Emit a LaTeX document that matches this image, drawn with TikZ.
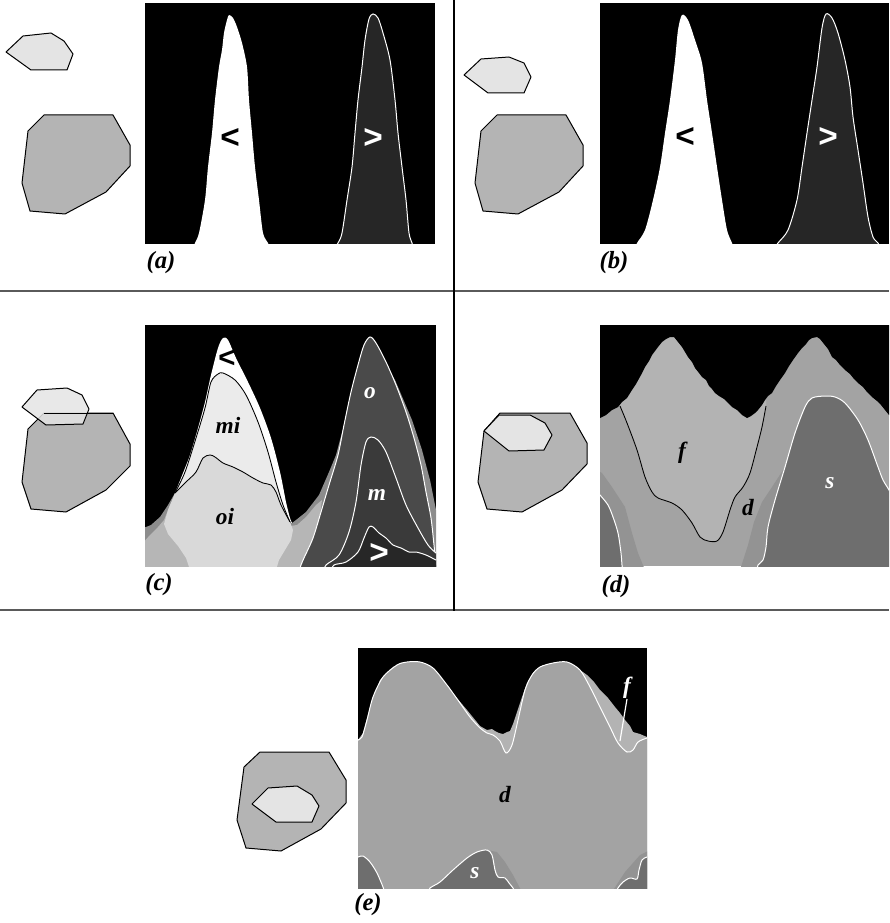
\documentclass[tikz,border=0pt]{standalone}
\usepackage{fontspec}
\setmainfont{Liberation Serif}
\newfontfamily\symfont{Liberation Sans}
\definecolor{polylight}{HTML}{E4E4E4}
\definecolor{polydark}{HTML}{B4B4B4}
\definecolor{peakdark}{HTML}{262626}
\definecolor{regmi}{HTML}{EBEBEB}
\definecolor{regoi}{HTML}{D9D9D9}
\definecolor{chalo}{HTML}{8C8C8C}
\definecolor{chalolight}{HTML}{B6B6B6}
\definecolor{rego}{HTML}{4A4A4A}
\definecolor{regm}{HTML}{3A3A3A}
\definecolor{reggt}{HTML}{272727}
\definecolor{regd}{HTML}{A3A3A3}
\definecolor{regf}{HTML}{B3B3B3}
\definecolor{regs}{HTML}{6E6E6E}
\definecolor{halod}{HTML}{939393}
\definecolor{sepgray}{HTML}{5A5A5A}
\tikzset{
  sepline/.style={draw=sepgray, line width=0.9pt},
  blobsmall/.style={fill=polylight, draw=black, line width=0.75pt, line join=round},
  blobbig/.style={fill=polydark, draw=black, line width=0.75pt, line join=round},
  whiteedge/.style={draw=white, line width=0.75pt},
  blackedge/.style={draw=black, line width=0.65pt},
  caption/.style={font=\bfseries\itshape\fontsize{18.5}{18.5}\selectfont, inner sep=0pt},
  region/.style={font=\bfseries\itshape\fontsize{17.5}{17.5}\selectfont, inner sep=0pt},
  cmp/.style={font=\symfont\bfseries\fontsize{25}{25}\selectfont, inner sep=0pt}
}
\begin{document}
\begin{tikzpicture}[x=0.75pt,y=-0.75pt]
\useasboundingbox (0,0) rectangle (889,923);

% ---------------- separators ----------------
\draw[sepline] (0,291) -- (889,291);
\draw[sepline] (0,610) -- (889,610);
\draw[draw=black, line width=0.9pt] (454,0) -- (454,611);

% ---------------- panel (a) ----------------
\draw[blobsmall] (6,52) -- (23,36) -- (51,33) -- (64,41) -- (73,54) -- (67,70) -- (31,70) -- cycle;
\draw[blobbig] (44,115) -- (113,115) -- (130,145) -- (130,166) -- (106,192) -- (65,214) -- (30,211) -- (22,183) -- (28,131) -- cycle;
\fill[black] (145,3) rectangle (435,244);
\begin{scope}
  \clip (145,3) rectangle (435,244);
  \fill[white] plot[smooth] coordinates {(192,252) (195,243) (199,233) (205,200) (208,167) (212,133) (215,100) (219,67) (222,50) (224,33) (227,20) (229,15) (233,18) (237,27) (242,43) (247,67) (249,100) (252,133) (255,167) (259,200) (263,233) (268,243) (271,252)} -- cycle;
  \filldraw[fill=peakdark, whiteedge] plot[smooth] coordinates {(332,252) (338,243) (342,233) (347,200) (352,167) (355,133) (358,100) (362,67) (365,40) (369,19) (373,14) (378,18) (383,33) (390,60) (395,100) (398,133) (402,167) (406,200) (409,233) (412,243) (414,252)} -- cycle;
\end{scope}
\node[cmp, text=black] (altA) at (230,139) {<};
\node[cmp, text=white] (gtA) at (373,139) {>};
\node[caption] (capA) at (161,263) {(a)};

% ---------------- panel (b) ----------------
\draw[blobsmall] (464,75) -- (481,59) -- (509,57) -- (524,63) -- (531,77) -- (524,93) -- (488,93) -- cycle;
\draw[blobbig] (497,115) -- (566,115) -- (583,145) -- (583,166) -- (559,192) -- (518,214) -- (483,211) -- (475,183) -- (481,131) -- cycle;
\fill[black] (600,3) rectangle (889,244);
\begin{scope}
  \clip (600,3) rectangle (889,244);
  \fill[white] plot[smooth] coordinates {(633,252) (637,243) (645,230) (653,200) (660,167) (665,133) (670,100) (675,60) (678,30) (682,15) (688,20) (695,40) (702,63) (707,100) (712,133) (717,167) (722,200) (727,230) (732,243) (735,252)} -- cycle;
  \filldraw[fill=peakdark, whiteedge] plot[smooth] coordinates {(772,252) (778,243) (788,230) (797,200) (802,167) (807,133) (812,100) (817,67) (822,28) (826,14) (832,18) (838,33) (845,60) (850,87) (853,117) (858,150) (863,183) (868,217) (873,237) (878,243) (882,252)} -- cycle;
\end{scope}
\node[cmp, text=black] (altB) at (685,138) {<};
\node[cmp, text=white] (gtB) at (828,138) {>};
\node[caption] (capB) at (614,263) {(b)};

% ---------------- panel (c) ----------------
\draw[blobbig] (44,413) -- (113,413) -- (130,444) -- (130,466) -- (106,490) -- (66,512) -- (31,509) -- (22,482) -- (28,429) -- cycle;
\draw[blobsmall, fill opacity=0.85] (22,407) -- (37,390) -- (67,388) -- (82,395) -- (89,409) -- (83,424) -- (46,425) -- cycle;
\draw[black, line width=0.75pt] (44,413) -- (113,413);
\fill[black] (145,325) rectangle (436,566);
\begin{scope}
  \clip (145,325) rectangle (436,566);
  % grey halo around both peaks
  \fill[chalo] (141,528) -- (146,527) -- (151,525) -- (160,517) -- (168,505) -- (175,493) -- (292,523) -- (296,520) -- (306,512) -- (319,495) -- (329,472) -- (336,455) -- (344,425) -- (370,337) -- (395,380) -- (412,420) -- (422,450) -- (430,480) -- (436,510) -- (441,530) -- (441,570) -- (141,570) -- cycle;
  \fill[chalolight] (141,545) -- (150,535) -- (158,527) -- (164,520) -- (170,505) -- (175,497) -- (290,526) -- (297,525) -- (306,517) -- (316,505) -- (322,500) -- (318,530) -- (306,570) -- (141,570) -- cycle;
  % right peak: o, m and > layers
  \filldraw[fill=rego, whiteedge] plot[smooth] coordinates {(299,572) (301,565) (304,558) (313,538) (321,512) (329,485) (338,455) (344,425) (351,392) (358,365) (364,345) (370,337) (376,343) (386,362) (396,385) (406,412) (414,438) (421,465) (426,492) (431,518) (434,545) (436,565) (437,572)} -- cycle;
  \filldraw[fill=regm, whiteedge] plot[smooth] coordinates {(324,572) (326,565) (339,555) (349,532) (356,502) (361,465) (366,442) (371,437) (378,440) (386,452) (396,478) (406,505) (418,528) (428,545) (436,553) (441,556)} -- (441,575) -- cycle;
  \filldraw[fill=reggt, whiteedge] plot[smooth] coordinates {(331,572) (334,565) (346,562) (358,552) (364,538) (369,527) (373,527) (379,533) (386,538) (393,545) (401,548) (409,552) (416,552) (426,555) (436,560) (441,562)} -- (441,575) -- cycle;
  % left peak: white cap, mi and oi layers
  \fill[white] plot[smooth] coordinates {(175,493) (181,478) (190,455) (198,428) (205,402) (211,375) (218,348) (223,338) (228,340) (236,358) (248,382) (260,408) (271,438) (280,472) (286,502) (290,518) (292,523)} -- cycle;
  \filldraw[fill=regmi, blackedge] plot[smooth] coordinates {(175,493) (185,472) (196,438) (205,408) (211,382) (218,374) (223,373) (235,380) (246,395) (258,422) (268,452) (276,482) (283,505) (290,522)} -- cycle;
  \fill[regoi] plot[smooth] coordinates {(175,493) (186,482) (196,472) (203,458) (210,455) (215,457) (223,463) (233,467) (243,472) (253,478) (263,483) (271,485) (276,492) (281,505) (290,522)} -- (293,530) -- (291,540) -- (285,550) -- (279,560) -- (276,570) -- (190,570) -- (186,558) -- (178,546) -- (168,534) -- (164,524) -- (168,510) -- cycle;
  \draw[blackedge] plot[smooth] coordinates {(175,493) (186,482) (196,472) (203,458) (210,455) (215,457) (223,463) (233,467) (243,472) (253,478) (263,483) (271,485) (276,492) (281,505) (290,522)};
\end{scope}
\node[cmp, text=black, font=\symfont\bfseries\fontsize{22}{22}\selectfont] (altC) at (227,359) {<};
\node[region] (lmi) at (228,425) {mi};
\node[region] (loi) at (225,517) {oi};
\node[region, text=white] (lo) at (370,393) {o};
\node[region, text=white] (lm) at (377,495) {m};
\node[cmp, text=white] (gtC) at (379,553) {>};
\node[caption] (capC) at (159,585) {(c)};

% ---------------- panel (d) ----------------
\draw[blobbig] (500,413) -- (570,413) -- (587,443) -- (587,464) -- (562,490) -- (522,512) -- (487,509) -- (478,482) -- (484,431) -- cycle;
\draw[blobsmall] (484,431) -- (499,415) -- (530,415) -- (545,423) -- (552,435) -- (544,450) -- (509,451) -- cycle;
\fill[regd] (600,325) rectangle (889,566);
\begin{scope}
  \clip (600,325) rectangle (889,566);
  \fill[halod] (596,470) -- (602,473) -- (612,487) -- (625,507) -- (632,533) -- (638,553) -- (645,570) -- (596,570) -- cycle;
  \fill[halod] (740,570) -- (748,545) -- (754,522) -- (762,502) -- (772,487) -- (785,467) -- (775,500) -- (768,527) -- (766,547) -- (763,560) -- (758,570) -- cycle;
  \fill[regf] plot[smooth] coordinates {(620,406) (627,423) (637,450) (645,477) (652,492) (658,498) (672,503) (682,510) (692,523) (700,537) (708,541) (717,541) (723,532) (730,510) (735,497) (743,487) (750,473) (757,447) (762,427) (766,406)} -- (766,330) -- (620,330) -- cycle;
  % black sky above the mountains
  \fill[black] (596,321) -- (596,418) -- (600,418) -- (606,415) -- (612,410) -- (618,407) -- (622,402) -- (627,398) -- (632,390) -- (636,384) -- (641,375) -- (645,367) -- (649,361) -- (652,355) -- (655,351) -- (658,347) -- (662,342) -- (666,339) -- (670,337) -- (674,337) -- (678,342) -- (682,347) -- (685,352) -- (688,357) -- (692,362) -- (695,368) -- (699,373) -- (702,377) -- (706,380) -- (709,386) -- (712,389) -- (715,393) -- (719,396) -- (724,399) -- (728,403) -- (732,407) -- (737,410) -- (742,415) -- (747,418) -- (751,416) -- (755,413) -- (758,410) -- (762,405) -- (765,400) -- (768,396) -- (772,393) -- (776,386) -- (780,380) -- (785,373) -- (789,366) -- (793,360) -- (798,353) -- (802,348) -- (806,344) -- (809,340) -- (812,338) -- (817,337) -- (820,339) -- (824,344) -- (828,349) -- (832,357) -- (836,360) -- (840,365) -- (845,370) -- (850,374) -- (854,379) -- (858,383) -- (863,387) -- (867,392) -- (872,397) -- (877,401) -- (881,405) -- (885,410) -- (889,415) -- (893,417) -- (893,321) -- cycle;
  \draw[blackedge] plot[smooth] coordinates {(620,406) (627,423) (637,450) (645,477) (652,492) (658,498) (672,503) (682,510) (692,523) (700,537) (708,541) (717,541) (723,532) (730,510) (735,497) (743,487) (750,473) (757,447) (762,427) (766,406)};
  % s regions
  \filldraw[fill=regs, whiteedge] plot[smooth] coordinates {(596,490) (600,495) (608,505) (613,517) (618,533) (621,553) (622,565) (623,572)} -- (596,572) -- cycle;
  \filldraw[fill=regs, whiteedge] plot[smooth] coordinates {(757,572) (758,565) (763,560) (766,547) (768,527) (775,500) (785,467) (795,433) (805,407) (812,398) (825,396) (835,397) (845,403) (858,420) (868,440) (878,467) (883,480) (889,490) (894,500)} -- (894,572) -- cycle;
\end{scope}
\node[region] (df) at (682,453) {f};
\node[region] (dd) at (748,508) {d};
\node[region, text=white] (ds) at (830,483) {s};
\node[caption] (capD) at (616,587) {(d)};

% ---------------- panel (e) ----------------
\draw[blobbig] (260,752) -- (329,752) -- (346,780) -- (346,803) -- (321,829) -- (281,851) -- (246,848) -- (237,820) -- (244,767) -- cycle;
\draw[blobsmall] (252,804) -- (268,788) -- (297,786) -- (312,795) -- (319,806) -- (312,822) -- (276,822) -- cycle;
\fill[black] (358,648) rectangle (647,888);
\begin{scope}
  \clip (358,648) rectangle (647,888);
  \fill[regf] (354,745) -- (358,740) -- (363,733) -- (370,707) -- (380,680) -- (393,667) -- (407,662) -- (420,662) -- (433,670) -- (450,690) -- (467,710) -- (480,726) -- (487,730) -- (492,729) -- (495,731) -- (499,733) -- (503,734) -- (507,732) -- (510,731) -- (513,724) -- (515,718) -- (521,700) -- (527,683) -- (533,673) -- (540,667) -- (553,663) -- (563,662) -- (573,665) -- (587,675) -- (594,682) -- (600,690) -- (608,698) -- (615,707) -- (620,713) -- (625,720) -- (630,726) -- (633,732) -- (640,734) -- (647,737) -- (652,740) -- (652,892) -- (354,892) -- cycle;
  \filldraw[fill=regd, whiteedge] plot[smooth] coordinates {(352,748) (358,740) (362,737) (367,720) (373,697) (383,677) (397,665) (407,662) (420,662) (433,668) (447,685) (460,703) (470,717) (480,728) (487,733) (493,735) (500,741) (506,753) (512,745) (518,720) (525,690) (532,675) (540,667) (553,663) (567,662) (580,670) (590,687) (600,707) (610,727) (618,743) (627,752) (633,750) (638,742) (647,738) (652,737)} -- (652,895) -- (352,895) -- cycle;
  \fill[halod] (487,850) -- (497,852) -- (505,862) -- (513,875) -- (522,892) -- (505,892) -- cycle;
  \fill[halod] (612,892) -- (625,872) -- (640,855) -- (650,850) -- (650,892) -- cycle;
  \filldraw[fill=regs, whiteedge] plot[smooth] coordinates {(353,857) (358,857) (363,856) (370,862) (377,873) (383,887) (385,893)} -- (353,893) -- cycle;
  \filldraw[fill=regs, whiteedge] plot[smooth] coordinates {(428,893) (430,888) (440,882) (453,870) (467,858) (477,852) (487,850) (492,855) (495,870) (498,877) (505,878) (509,883) (513,888) (515,893)} -- cycle;
  \filldraw[fill=regs, whiteedge] plot[smooth] coordinates {(616,893) (618,888) (623,882) (630,878) (637,879) (639,870) (642,860) (647,857) (652,856)} -- (652,893) -- cycle;
\end{scope}
\node[region, text=white] (ef) at (627,688) {f};
\coordinate (efend) at (620,741);
\draw[white, line width=0.9pt] (ef.south) -- (efend);
\node[region] (ed) at (505,795) {d};
\node[region, text=white] (es) at (475,873) {s};
\node[caption] (capE) at (368,905) {(e)};
\end{tikzpicture}
\end{document}
